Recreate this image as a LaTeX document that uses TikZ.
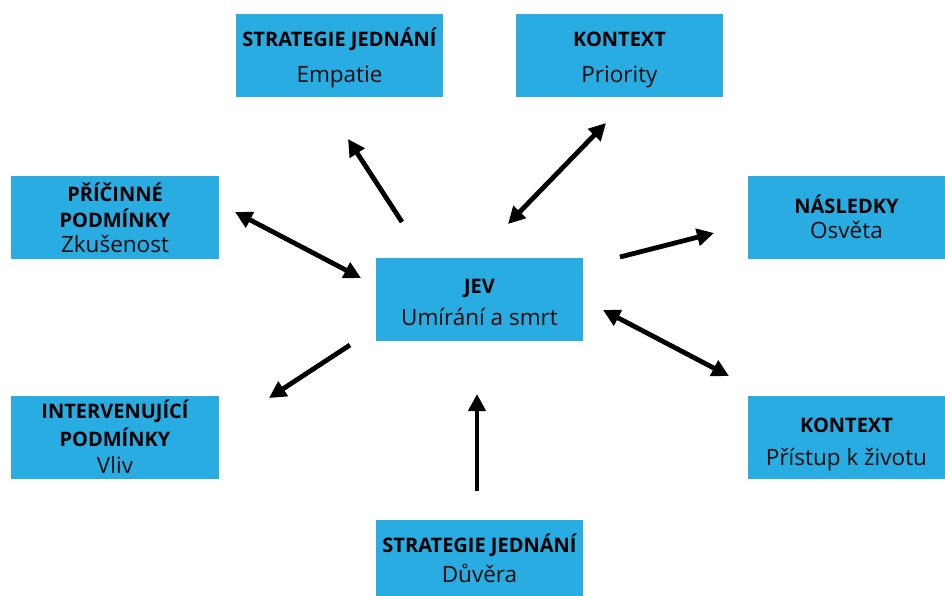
\documentclass[tikz,border=0pt]{standalone}
\usepackage{fontspec}
\setmainfont{Open Sans}
\usetikzlibrary{arrows.meta}
\definecolor{boxblue}{RGB}{41,172,226}
\tikzset{
  box/.style={fill=boxblue, draw=none, inner sep=0pt},
  hd/.style={anchor=base, inner sep=0pt, text=black, font=\fontsize{20}{24}\selectfont\bfseries},
  tx/.style={anchor=base, inner sep=0pt, text=black!95, font=\fontsize{22.5}{26}\selectfont},
  arr/.style={line width=4.8pt, -{Triangle[length=17pt,width=17pt]}},
  darr/.style={line width=4.8pt, {Triangle[length=17pt,width=17pt]}-{Triangle[length=17pt,width=17pt]}},
}
\begin{document}
\begin{tikzpicture}[x=1pt,y=-1pt]
\useasboundingbox (0,0) rectangle (945,595);
\begin{scope}
\clip (0,0) rectangle (945,595);
% boxes
\node[box, minimum width=207pt, minimum height=83pt] (A) at (339.5,55.5) {};
\node[box, minimum width=207pt, minimum height=83pt] (B) at (619.5,55.5) {};
\node[box, minimum width=208pt, minimum height=83pt] (C) at (115,217.5) {};
\node[box, minimum width=197pt, minimum height=83pt] (D) at (846.5,217.5) {};
\node[box, minimum width=207pt, minimum height=83pt] (E) at (479.5,299.5) {};
\node[box, minimum width=208pt, minimum height=83pt] (F) at (115,437.5) {};
\node[box, minimum width=197pt, minimum height=83pt] (G) at (846.5,437.5) {};
\node[box, minimum width=207pt, minimum height=84pt] (H) at (479.5,562) {};
\end{scope}
% texts
\node[hd] (A1) at (339.5,46) {STRATEGIE JEDNÁNÍ};
\node[tx] (A2) at (339.5,82) {Empatie};
\node[hd] (B1) at (619.5,46) {KONTEXT};
\node[tx] (B2) at (619.5,82) {Priority};
\node[hd] (C1) at (115,201) {PŘÍČINNÉ};
\node[hd] (C2) at (115,227) {PODMÍNKY};
\node[tx] (C3) at (115,252) {Zkušenost};
\node[hd] (D1) at (846.5,213) {NÁSLEDKY};
\node[tx] (D2) at (846.5,238) {Osvěta};
\node[hd] (E1) at (479.5,293) {JEV};
\node[tx] (E2) at (479.5,325) {Umírání a smrt};
\node[hd] (F1) at (115,418) {INTERVENUJÍCÍ};
\node[hd] (F2) at (115,446) {PODMÍNKY};
\node[tx] (F3) at (115,473) {Vliv};
\node[hd] (G1) at (846.5,432) {KONTEXT};
\node[tx] (G2) at (846.5,465) {Přístup k životu};
\node[hd] (H1) at (479.5,552) {STRATEGIE JEDNÁNÍ};
\node[tx] (H2) at (479.5,582) {Důvěra};
% arrow end points
\coordinate (a1s) at (402,222); \coordinate (a1e) at (348,139);
\coordinate (a2s) at (508,224); \coordinate (a2e) at (606,123);
\coordinate (a3s) at (235,212); \coordinate (a3e) at (361,278);
\coordinate (a4s) at (620,257); \coordinate (a4e) at (714,233);
\coordinate (a5s) at (350,345); \coordinate (a5e) at (269,398);
\coordinate (a6s) at (603,310); \coordinate (a6e) at (729,376);
\coordinate (a7s) at (477,491); \coordinate (a7e) at (477,394);
\draw[arr]  (a1s) -- (a1e);
\draw[darr] (a2s) -- (a2e);
\draw[darr] (a3s) -- (a3e);
\draw[arr]  (a4s) -- (a4e);
\draw[arr]  (a5s) -- (a5e);
\draw[darr] (a6s) -- (a6e);
\draw[arr]  (a7s) -- (a7e);
\end{tikzpicture}
\end{document}
